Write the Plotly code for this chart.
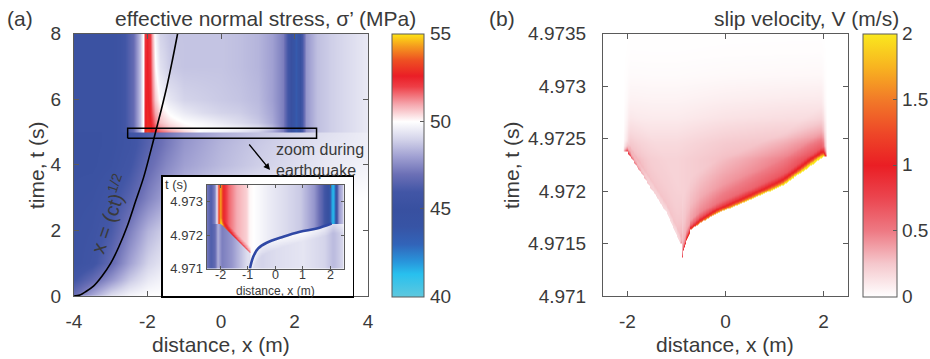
import numpy as np
import plotly.graph_objects as go

W, H = 930, 359
FONT = "Liberation Sans, Arial, Helvetica, sans-serif"
TXT = "#3a3a3a"
AXC = "#5a5a5a"

# ================= DATA =================
# ---- panel (a): effective normal stress sigma' (MPa), before the earthquake
x_pre = [-4, -3.5, -3, -2.5, -2, -1.5, -1, 0, 1, 2, 3, 4]
t_pre = [0, 0.5, 1, 2, 3, 4, 4.6, 4.971]
sig_pre = [
    [47.0, 48.2, 49.3, 49.8, 50.0, 50.0, 50.0, 50.0, 50.0, 50.0, 50.0, 50.0],
    [46.0, 46.8, 47.8, 48.8, 49.5, 49.8, 50.0, 50.0, 50.0, 50.0, 50.0, 50.0],
    [45.4, 45.8, 46.8, 48.0, 49.0, 49.5, 49.8, 50.0, 50.0, 50.0, 50.0, 50.0],
    [45.4, 45.6, 46.2, 47.3, 48.4, 49.0, 49.4, 49.8, 49.9, 50.0, 50.0, 50.0],
    [45.3, 45.4, 45.8, 46.5, 47.4, 48.1, 48.6, 49.2, 49.6, 49.8, 49.9, 50.0],
    [45.2, 45.2, 45.4, 45.9, 46.8, 47.5, 48.0, 48.5, 48.9, 49.2, 49.5, 49.7],
    [45.2, 45.2, 45.3, 45.7, 46.5, 47.2, 47.8, 48.4, 48.8, 49.1, 49.4, 49.6],
    [45.2, 45.2, 45.3, 45.7, 46.4, 47.1, 47.7, 48.3, 48.7, 49.0, 49.3, 49.6],
]

# ---- panel (a): after the earthquake
x_post = [-4, -3, -2.75, -2.4, -2.2, -2.12,
          -2.07, -2.02, -1.93, -1.87, -1.8, -1.65, -1.4, -1.0, -0.5, 0, 0.5, 1.0, 1.4,
          1.7, 1.85, 1.95, 2.05, 2.12, 2.18, 2.3, 2.6, 3.0, 3.5, 4.0]
t_post = [4.972, 4.973, 5.1, 5.3, 5.6, 6.0, 7.0, 8.0]
sig_post_left = [45.3, 45.3, 45.5, 46.8, 48.6, 50.0]
sig_post_mid = [
    [53.0, 53.5, 53.0, 52.6, 52.2, 51.8, 51.3, 50.6, 49.8, 49.6, 49.3, 48.8, 48.0],
    [53.0, 53.5, 53.0, 52.6, 52.2, 51.8, 51.3, 50.6, 49.8, 49.6, 49.3, 48.8, 48.0],
    [52.6, 52.9, 52.8, 52.4, 51.9, 51.2, 50.6, 50.2, 50.0, 49.9, 49.7, 49.3, 48.6],
    [52.5, 52.8, 52.7, 52.1, 51.4, 50.7, 50.3, 50.0, 49.8, 49.5, 49.2, 48.8, 48.2],
    [52.5, 52.8, 52.5, 51.8, 51.0, 50.4, 49.9, 49.5, 49.2, 49.0, 48.9, 48.6, 48.1],
    [52.4, 52.7, 52.4, 51.5, 50.6, 49.9, 49.4, 49.0, 48.9, 48.8, 48.7, 48.5, 48.0],
    [52.3, 52.6, 52.2, 51.2, 50.1, 49.3, 48.8, 48.7, 48.7, 48.7, 48.6, 48.4, 48.0],
    [52.2, 52.5, 52.1, 51.0, 49.8, 49.0, 48.7, 48.7, 48.7, 48.7, 48.6, 48.4, 48.0],
]
sig_post_right = [47.3, 45.6, 44.2, 43.6, 44.3, 45.6, 47.8, 48.6, 48.9, 49.2, 49.5]

# ---- panel (a): diffusion curve x = (ct)^1/2
curve_t = [0, 0.03, 0.12, 0.3, 0.6, 1.0, 1.5, 2.1, 2.9, 3.6, 4.3, 5.0, 5.7, 6.4, 7.2, 8.0]
curve_x = [-4.0, -3.84, -3.7, -3.47, -3.24, -3.0, -2.78, -2.56, -2.32, -2.11, -1.94,
           -1.78, -1.62, -1.47, -1.32, -1.18]

# ---- panel (a): zoom rectangle (x, t)
zoom_x = [-2.54, 2.60]
zoom_t = [4.81, 5.11]

# ---- inset: stress during the earthquake
sig0_x = [-2.5, -2.35, -2.2, -2.1, -2.05, -1.95, -1.6, -1.2, -1.0, -0.5, 0.0, 1.0, 1.8, 2.1, 2.3, 2.5]
sig0_v = [47.2, 46.3, 46.8, 48.3, 48.0, 47.3, 47.8, 48.8, 49.3, 49.0, 49.2, 49.4, 49.0, 48.5, 48.8, 49.2]
sig1_x = [-2.5, -2.35, -2.2, -2.12, -2.05, -2.0, -1.95, -1.88, -1.7, -1.4, -1.05, -0.95, -0.8,
          -0.3, 0.3, 0.9, 1.4, 1.7, 1.88, 1.98, 2.05, 2.13, 2.2, 2.3, 2.5]
sig1_v = [47.2, 46.3, 47.5, 50.0, 53.8, 54.5, 53.5, 52.4, 51.6, 50.9, 50.5, 50.1, 50.0,
          49.6, 49.2, 48.8, 47.8, 46.5, 45.2, 43.8, 41.6, 41.5, 45.0, 47.8, 49.0]
front_in_x = [-0.92, -0.80, -0.62, -0.31, 0.29, 0.9, 1.51, 2.05]
front_in_t = [4.9710, 4.97135, 4.97160, 4.97177, 4.97195, 4.97210, 4.97220, 4.97235]
left_in_x = [-2.5, -2.01, -0.98, -0.92]
left_in_t = [4.97235, 4.97235, 4.97150, 4.97147]
left_band = 1.6          # extra stress (MPa) along the left-going front
ahead_white = 0.6        # lightening just ahead of the right-going front
inset_xticks = [-2, -1, 0, 1, 2]

# ---- panel (b): slip velocity V (m/s)
vr_x = [-0.93, -0.88, -0.83, -0.72, -0.52, -0.18, 0.5, 1.18, 2.0]
vr_t = [4.97128, 4.97140, 4.97149, 4.97163, 4.97170, 4.97179, 4.97192, 4.97206, 4.97233]
vl_x = [-2.02, -1.68, -1.2, -0.93]
vl_t = [4.97238, 4.97214, 4.97179, 4.97150]
pk_x = [-2.02, -1.9, -1.6, -1.2, -0.93, -0.9, -0.8, -0.5, 0.0, 0.5, 1.0, 1.5, 2.0]
pk_v = [1.1, 0.45, 0.15, 0.05, 0.05, 0.4, 0.9, 1.05, 1.12, 1.2, 1.35, 1.7, 1.95]
g_tau = [0, 1e-5, 2.5e-5, 5e-5, 1e-4]
g_val = [1, 0.7, 0.4, 0.15, 0]
mid_x = [-2.0, -1.5, -1.0, -0.5, 0.0, 0.5, 1.0, 1.5, 2.0]
mid_v = [0.15, 0.1, 0.1, 0.4, 0.5, 0.55, 0.6, 0.65, 0.7]
h_tau = [0, 8e-5, 2.5e-4, 5e-4]
h_val = [1, 0.6, 0.25, 0]
tail_x = [-2.08, -1.95, -1.5, -1.0, -0.5, 0.0, 1.0, 1.95, 2.06]
tail_v = [0.0, 0.22, 0.2, 0.2, 0.24, 0.28, 0.32, 0.35, 0.0]
rampL_tau = [0, 8e-5]
rampL_val = [0.05, 1.0]
edge_x = [-2.1, -2.0, 2.0, 2.06]
edge_v = [0, 1, 1, 0]
decay_t = [4.9723, 4.97245, 4.9727, 4.9729, 4.9731, 4.9733, 4.9735]
decay_v = [1.0, 0.85, 0.45, 0.25, 0.1, 0.035, 0.01]

# ---- colour bars
cbar_a_ticks = [40, 45, 50, 55]
cbar_b_ticks = [0, 0.5, 1, 1.5, 2]
cbar_b_text = ["0", "0.5", "1", "1.5", "2"]

# ---- colour scales
cs_stress = [
    [0.0, "rgb(95,200,222)"], [(41.3 - 40) / 15, "rgb(40,192,238)"],
    [(42 - 40) / 15, "rgb(40,150,220)"], [(43 - 40) / 15, "rgb(50,100,185)"],
    [(44 - 40) / 15, "rgb(55,84,165)"], [(45 - 40) / 15, "rgb(56,80,160)"],
    [(46 - 40) / 15, "rgb(66,86,166)"], [(47 - 40) / 15, "rgb(108,112,182)"],
    [(48 - 40) / 15, "rgb(160,160,210)"], [(49 - 40) / 15, "rgb(212,212,234)"],
    [(50 - 40) / 15, "rgb(255,255,255)"], [(51 - 40) / 15, "rgb(245,165,172)"],
    [(52 - 40) / 15, "rgb(238,62,70)"], [(52.6 - 40) / 15, "rgb(234,30,38)"],
    [(53.5 - 40) / 15, "rgb(238,80,34)"], [(54.3 - 40) / 15, "rgb(245,155,30)"],
    [1.0, "rgb(255,228,20)"],
]
cs_vel = [
    [0.0, "rgb(255,255,255)"], [0.125, "rgb(245,200,205)"], [0.25, "rgb(238,122,132)"],
    [0.375, "rgb(235,70,80)"], [0.5, "rgb(234,30,36)"], [0.625, "rgb(238,72,40)"],
    [0.75, "rgb(242,122,40)"], [0.875, "rgb(248,180,32)"], [1.0, "rgb(250,232,30)"],
]

# ================= derived grids =================
sig_post = [sig_post_left + m + sig_post_right for m in sig_post_mid]

# inset field
xi = np.linspace(-2.5, 2.5, 276)
ti = np.linspace(4.971, 4.9735, 200)
s0 = np.interp(xi, sig0_x, sig0_v)
s1 = np.interp(xi, sig1_x, sig1_v)
tFi = np.where(xi < -0.92, np.interp(xi, left_in_x, left_in_t), np.interp(xi, front_in_x, front_in_t))
taui = ti[:, None] - tFi[None, :]
Zi = np.where(taui < 0, s0[None, :], s1[None, :])
leftmask = ((xi < -0.92) & (xi > -2.0))[None, :]
Zi = Zi + np.where((taui >= 0) & leftmask,
                   left_band * np.interp(np.clip(taui, 0, None), [0, 8e-5, 2e-4], [1, 0.4, 0]), 0)
rightmask = (xi >= -0.92)[None, :]
Zi = Zi + np.where((taui < 0) & rightmask,
                   ahead_white * np.interp(np.clip(-taui, 0, None), [0, 3e-4], [1, 0]), 0)
Zi = np.round(Zi, 2)

# panel (b) field
xb = np.linspace(-2.5, 2.5, 321)
tb = np.linspace(4.971, 4.9735, 541)
tFb = np.where(xb < -0.9, np.interp(xb, vl_x, vl_t), np.interp(xb, vr_x, vr_t))
taub = tb[:, None] - tFb[None, :]
tp = np.clip(taub, 0, None)
Apk = np.interp(xb, pk_x, pk_v)[None, :]
Amid = np.interp(xb, mid_x, mid_v)[None, :]
Atail = np.interp(xb, tail_x, tail_v)[None, :]
E = np.interp(xb, edge_x, edge_v)[None, :]
ramp = np.where(xb[None, :] < -0.9, np.interp(tp, rampL_tau, rampL_val), 1.0)
Vb = (Apk * np.interp(tp, g_tau, g_val) + Amid * np.interp(tp, h_tau, h_val)) * E + Atail * ramp
Vb = Vb * np.interp(tb, decay_t, decay_v)[:, None]
Vb = np.where(taub >= 0, Vb, 0.0)
Vb = np.round(np.clip(Vb, 0, 2), 3)

# ================= figure =================
def dx(p):
    return p / W


def dy(p):
    return 1 - p / H


fig = go.Figure()

fig.add_trace(go.Heatmap(x=x_pre, y=t_pre, z=sig_pre, coloraxis="coloraxis",
                         zsmooth="best", hoverinfo="skip", xaxis="x", yaxis="y"))
fig.add_trace(go.Heatmap(x=x_post, y=t_post, z=sig_post, coloraxis="coloraxis",
                         zsmooth="best", hoverinfo="skip", xaxis="x", yaxis="y"))
fig.add_trace(go.Scatter(x=curve_x, y=curve_t, mode="lines", line=dict(color="black", width=1.6, shape="spline"),
                         hoverinfo="skip", showlegend=False, xaxis="x", yaxis="y"))
fig.add_trace(go.Scatter(x=[zoom_x[0], zoom_x[1], zoom_x[1], zoom_x[0], zoom_x[0]],
                         y=[zoom_t[0], zoom_t[0], zoom_t[1], zoom_t[1], zoom_t[0]],
                         mode="lines", line=dict(color="black", width=1.5),
                         hoverinfo="skip", showlegend=False, xaxis="x", yaxis="y"))

fig.add_trace(go.Heatmap(x=xb, y=tb, z=Vb, coloraxis="coloraxis2", zsmooth="best",
                         hoverinfo="skip", xaxis="x2", yaxis="y2"))

# white box holding the inset
fig.add_trace(go.Scatter(x=[0.5], y=[0.5], mode="markers", marker=dict(opacity=0),
                         hoverinfo="skip", showlegend=False, xaxis="x3", yaxis="y3"))

fig.add_trace(go.Heatmap(x=xi, y=ti, z=Zi, coloraxis="coloraxis", zsmooth="best",
                         hoverinfo="skip", xaxis="x4", yaxis="y4"))
fig.add_trace(go.Scatter(x=front_in_x, y=front_in_t, mode="lines",
                         line=dict(color="rgb(48,72,165)", width=2.6, shape="spline"),
                         hoverinfo="skip", showlegend=False, xaxis="x4", yaxis="y4"))

TICK = 19
LAB = 21
axis_common = dict(showline=True, linecolor=AXC, linewidth=1, mirror="ticks", ticks="inside",
                   tickcolor=AXC, ticklen=5, showgrid=False, zeroline=False,
                   tickfont=dict(family=FONT, size=TICK, color=TXT))
inset_common = dict(showline=True, linecolor=AXC, linewidth=1, mirror="ticks", ticks="inside",
                    tickcolor=AXC, ticklen=3, showgrid=False, zeroline=False,
                    tickfont=dict(family=FONT, size=13, color=TXT), ticklabelstandoff=0)
box_common = dict(range=[0, 1], showline=True, linecolor="black", linewidth=1.6, mirror=True,
                  ticks="", showticklabels=False, showgrid=False, zeroline=False, fixedrange=True)
cbar_common = dict(y=dy(33.5), yanchor="top", len=262.5, lenmode="pixels", thicknessmode="pixels",
                   xpad=0, ypad=0, outlinewidth=1, outlinecolor=AXC, ticks="inside", ticklen=4,
                   tickcolor=AXC, showticklabels=False)

fig.update_layout(
    width=W, height=H, margin=dict(l=0, r=0, t=0, b=0, autoexpand=False),
    paper_bgcolor="white", plot_bgcolor="white", showlegend=False,
    font=dict(family=FONT, color=TXT),
    xaxis=dict(domain=[dx(74), dx(368)], range=[-4, 4], anchor="y",
               tickvals=[-4, -2, 0, 2, 4], ticktext=["-4", "-2", "0", "2", "4"],
               ticklabelstandoff=8, **axis_common),
    yaxis=dict(domain=[dy(296), dy(33.5)], range=[0, 8], anchor="x",
               tickvals=[0, 2, 4, 6, 8], ticklabelstandoff=8, **axis_common),
    xaxis2=dict(domain=[dx(603), dx(848)], range=[-2.5, 2.5], anchor="y2",
                tickvals=[-2, 0, 2], ticktext=["-2", "0", "2"], ticklabelstandoff=8, **axis_common),
    yaxis2=dict(domain=[dy(296), dy(33.5)], range=[4.971, 4.9735], anchor="x2",
                tickvals=[4.971, 4.9715, 4.972, 4.9725, 4.973, 4.9735],
                ticktext=["4.971", "4.9715", "4.972", "4.9725", "4.973", "4.9735"],
                ticklabelstandoff=12, **axis_common),
    xaxis3=dict(domain=[dx(162.7), dx(352.7)], anchor="y3", **box_common),
    yaxis3=dict(domain=[dy(296), dy(176.7)], anchor="x3", **box_common),
    xaxis4=dict(domain=[dx(206.5), dx(344)], range=[-2.5, 2.5], anchor="y4",
                tickvals=inset_xticks, showticklabels=False, **inset_common),
    yaxis4=dict(domain=[dy(268.5), dy(185)], range=[4.971, 4.9735], anchor="x4",
                tickvals=[4.971, 4.972, 4.973], ticktext=["4.971", "4.972", "4.973"], **inset_common),
    coloraxis=dict(cmin=40, cmax=55, colorscale=cs_stress,
                   colorbar=dict(x=dx(392), xanchor="left", thickness=32,
                                 tickvals=cbar_a_ticks, **cbar_common)),
    coloraxis2=dict(cmin=0, cmax=2, colorscale=cs_vel,
                    colorbar=dict(x=dx(863), xanchor="left", thickness=34,
                                  tickvals=cbar_b_ticks, **cbar_common)),
)


def label(text, x, y, size=LAB, angle=0, xanchor="center", align="center"):
    fig.add_annotation(text=text, x=dx(x), y=dy(y), xref="paper", yref="paper",
                       showarrow=False, textangle=angle, xanchor=xanchor, yanchor="middle",
                       align=align, borderpad=0, font=dict(family=FONT, size=size, color=TXT))


label("(a)", 20, 18)
label("effective normal stress, σ’ (MPa)", 265, 18)
label("time, t (s)", 37, 165, angle=-90)
label("distance, x (m)", 221, 344)
label("(b)", 502, 18)
label("slip velocity, V (m/s)", 806, 18)
label("time, t (s)", 512, 165, angle=-90)
label("distance, x (m)", 725, 344)
label("zoom during<br>earthquake", 275, 160, size=16, xanchor="left", align="left")
label("t (s)", 176, 184, size=13)
label("distance, x (m)", 275, 290.5, size=12)
label("x = (ct)<sup>1/2</sup>", 108, 214, size=20, angle=-71)

# inset x tick labels, placed through the inset's own x axis
for v in inset_xticks:
    fig.add_annotation(text=str(v), x=v, y=dy(275), xref="x4", yref="paper", showarrow=False,
                       xanchor="center", yanchor="middle", borderpad=0,
                       font=dict(family=FONT, size=12.5, color=TXT))

# colour-bar tick labels, placed through each colour bar's own value scale
bar_top, bar_bot = 33.5, 296
for v in cbar_a_ticks:
    ypix = bar_bot - (v - 40) / 15 * (bar_bot - bar_top)
    label(str(v), 429, ypix, size=TICK, xanchor="left")
for v, s in zip(cbar_b_ticks, cbar_b_text):
    ypix = bar_bot - v / 2 * (bar_bot - bar_top)
    label(s, 901, ypix, size=TICK, xanchor="left")

fig.add_annotation(x=dx(270), y=dy(170), xref="paper", yref="paper", text="", showarrow=True,
                   ax=-22, ay=-27, arrowhead=2, arrowsize=1, arrowwidth=1.3, arrowcolor="black")

fig.write_html("out.html", config={"displayModeBar": False, "staticPlot": True},
               post_script="document.body.style.margin='0px';document.body.style.overflow='hidden';")
